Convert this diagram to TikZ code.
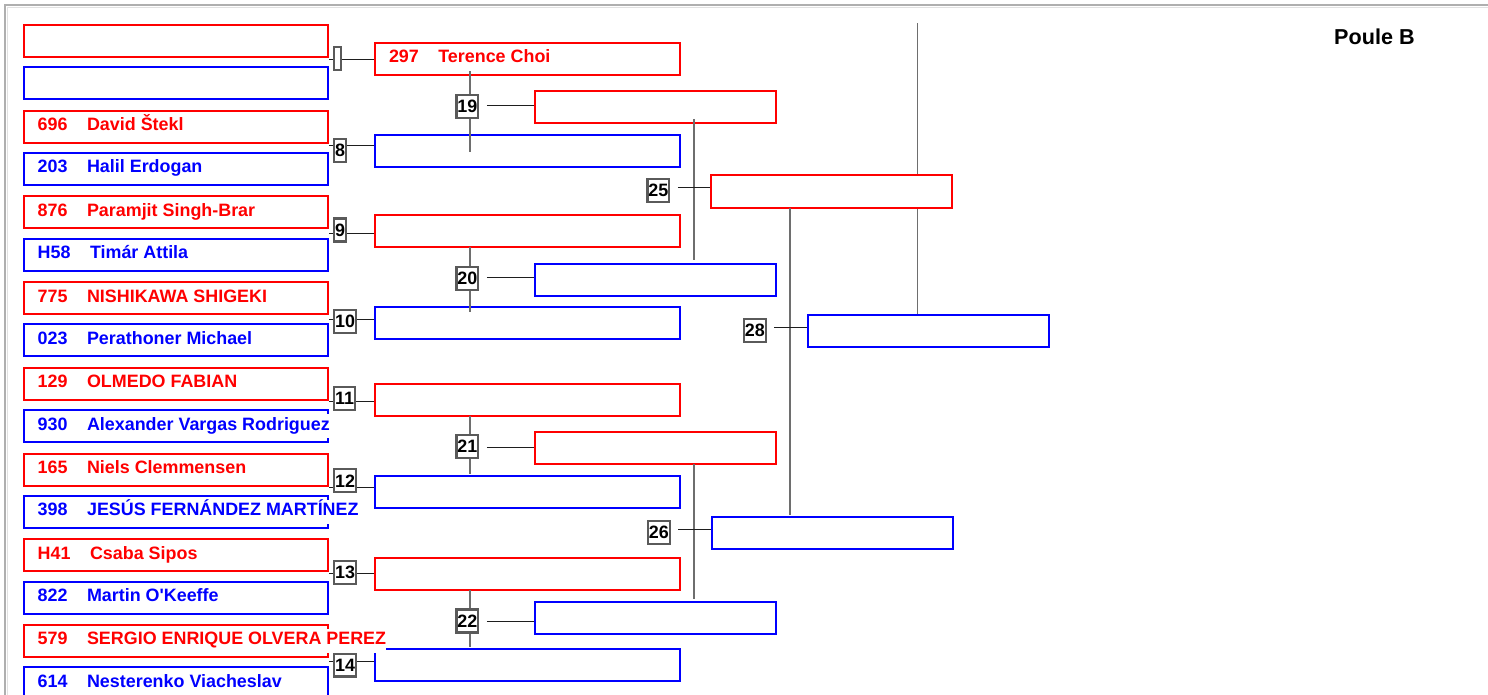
\documentclass[tikz,border=0pt]{standalone}
\usepackage{fontspec}
\setmainfont{Liberation Sans}
\definecolor{framegray}{RGB}{175,175,175}
\definecolor{framelight}{RGB}{225,225,225}
\definecolor{linegray}{RGB}{110,110,110}
\definecolor{nboxgray}{RGB}{90,90,90}
\definecolor{hlinec}{RGB}{30,30,30}
\newcommand\namefont{\bfseries\fontsize{17.9}{20}\selectfont}
\newcommand\pouletitlefont{\bfseries\fontsize{21.6}{24}\selectfont}
\newcommand\gapnm{\hspace{19.5pt}}
\begin{document}
\begin{tikzpicture}[x=1pt,y=-1pt,
  box/.style={draw, line width=2pt, minimum height=32pt, inner sep=0pt, anchor=north west},
  rbox/.style={box, draw=red},
  bbox/.style={box, draw=blue},
  wA/.style={minimum width=304pt},
  wB/.style={minimum width=304.7pt},
  wC/.style={minimum width=241pt},
  nbox/.style={draw=nboxgray, line width=2.2pt, fill=white, inner xsep=1pt, inner ysep=0pt,
    minimum height=23pt, anchor=west, font=\namefont, text=black},
  txt/.style={anchor=base west, fill=white, inner sep=0pt, text height=16pt, text depth=8pt, font=\namefont},
  rt/.style={txt, text=red},
  bt/.style={txt, text=blue},
  hl/.style={draw=hlinec, line width=1pt},
  vl/.style={draw=linegray, line width=1.4pt}]
\useasboundingbox (0,0) rectangle (1488,695);
% frame
\draw[framegray, line width=2pt] (5,695) -- (5,5) -- (1488,5);
\draw[framelight, line width=1pt] (7.5,695) -- (7.5,7.5) -- (1488,7.5);

% ---- column 1 boxes
\foreach \k in {0,...,7} {
  \pgfmathsetmacro\rtop{24+85.7*\k}
  \pgfmathsetmacro\btop{66.3+85.7*\k}
  \node[rbox, wA] (r\k) at (23,\rtop) {};
  \node[bbox, wA] (b\k) at (23,\btop) {};
}
% ---- column 2 boxes
\node[rbox, wB] (n0) at (374.3,42) {};
\node[bbox, wB] (n1) at (374.3,134) {};
\node[rbox, wB] (n2) at (374.3,214) {};
\node[bbox, wB] (n3) at (374.3,306) {};
\node[rbox, wB] (n4) at (374.3,382.7) {};
\node[bbox, wB] (n5) at (374.3,474.7) {};
\node[rbox, wB] (n6) at (374.3,557) {};
\node[bbox, wB] (n7) at (374.3,648) {};
% ---- column 3 boxes
\node[rbox, wC] (q19) at (534.3,90.3) {};
\node[bbox, wC] (q20) at (534.3,262.7) {};
\node[rbox, wC] (q21) at (534.3,430.7) {};
\node[bbox, wC] (q22) at (534.3,600.7) {};
% ---- column 4 / 5 boxes
\node[rbox, wC, minimum height=33pt] (q25) at (710.3,174.3) {};
\node[bbox, wC] (q26) at (710.5,516.3) {};
\node[bbox, wC] (q28) at (806.7,314.3) {};

% ---- vertical connectors
\coordinate (v19a) at (470,71);    \coordinate (v19b) at (470,152);
\coordinate (v20a) at (470,247);   \coordinate (v20b) at (470,312);
\coordinate (v21a) at (470,416);   \coordinate (v21b) at (470,474);
\coordinate (v22a) at (470,590);   \coordinate (v22b) at (470,647);
\coordinate (v25a) at (694,119);   \coordinate (v25b) at (694,260);
\coordinate (v26a) at (694,464);   \coordinate (v26b) at (694,599.3);
\coordinate (v28a) at (790,208.3); \coordinate (v28b) at (790,515);
\coordinate (vTa) at (917.7,23.3);
\draw[vl] (v19a) -- (v19b);
\draw[vl] (v20a) -- (v20b);
\draw[vl] (v21a) -- (v21b);
\draw[vl] (v22a) -- (v22b);
\draw[vl] (v25a) -- (v25b);
\draw[vl] (v26a) -- (v26b);
\draw[vl] (v28a) -- (v28b);
\draw[vl] (vTa) -- (vTa |- q25.north);
\draw[vl] (vTa |- q25.south) -- (vTa |- q28.north);

% ---- match number boxes, column 1
\node[nbox, minimum width=7pt] (m0) at (333,58.7) {};
\node[nbox] (m1) at (333,150.3) {8};
\node[nbox] (m2) at (333,230) {9};
\node[nbox] (m3) at (333,321.7) {10};
\node[nbox] (m4) at (333,398.3) {11};
\node[nbox] (m5) at (333,480.8) {12};
\node[nbox] (m6) at (333,572.8) {13};
\node[nbox] (m7) at (333,665) {14};
% ---- match number boxes, later rounds
\node[nbox] (m19) at (455.3,106.7) {19};
\node[nbox] (m20) at (455.3,278.3) {20};
\node[nbox] (m21) at (455.3,446.3) {21};
\node[nbox] (m22) at (455.3,621) {22};
\node[nbox] (m25) at (646.3,190.5) {25};
\node[nbox] (m26) at (646.7,532.5) {26};
\node[nbox] (m28) at (742.7,330.8) {28};

% ---- horizontal connectors, column 1 -> 2
\coordinate (L0) at (0,59.3);
\coordinate (L1) at (0,145.3);
\coordinate (L2) at (0,233.3);
\coordinate (L3) at (0,319.3);
\coordinate (L4) at (0,401.7);
\coordinate (L5) at (0,487.7);
\coordinate (L6) at (0,573.3);
\coordinate (L7) at (0,661.7);
\foreach \k in {0,...,7} {
  \draw[hl] (r\k.east |- L\k) -- (m\k.west |- L\k);
  \draw[hl] (m\k.east |- L\k) -- (n\k.west |- L\k);
}
% ---- horizontal connectors, later rounds
\coordinate (L19) at (0,105.3);
\coordinate (L20) at (0,277.7);
\coordinate (L21) at (0,447.7);
\coordinate (L22) at (0,621.7);
\coordinate (L25) at (0,187.7);
\coordinate (L26) at (0,529.7);
\coordinate (L28) at (0,327.3);
\foreach \m in {19,20,21,22,25,26,28} {
  \path (m\m.east) ++(7.5,0) coordinate (s\m);
  \draw[hl] (s\m |- L\m) -- (q\m.west |- L\m);
}

% ---- texts
\node[rt] (t1r) at ([xshift=14.5pt,yshift=-21pt]r1.north west) {696\gapnm David Štekl};
\node[bt] (t1b) at ([xshift=14.5pt,yshift=-21pt]b1.north west) {203\gapnm Halil Erdogan};
\node[rt] (t2r) at ([xshift=14.5pt,yshift=-21pt]r2.north west) {876\gapnm Paramjit Singh-Brar};
\node[bt] (t2b) at ([xshift=14.5pt,yshift=-21pt]b2.north west) {H58\gapnm Timár Attila};
\node[rt] (t3r) at ([xshift=14.5pt,yshift=-21pt]r3.north west) {775\gapnm NISHIKAWA SHIGEKI};
\node[bt] (t3b) at ([xshift=14.5pt,yshift=-21pt]b3.north west) {023\gapnm Perathoner Michael};
\node[rt] (t4r) at ([xshift=14.5pt,yshift=-21pt]r4.north west) {129\gapnm OLMEDO FABIAN};
\node[bt] (t4b) at ([xshift=14.5pt,yshift=-21pt]b4.north west) {930\gapnm Alexander Vargas Rodriguez};
\node[rt] (t5r) at ([xshift=14.5pt,yshift=-21pt]r5.north west) {165\gapnm Niels Clemmensen};
\node[bt] (t5b) at ([xshift=14.5pt,yshift=-21pt]b5.north west) {398\gapnm JESÚS FERNÁNDEZ MARTÍNEZ};
\node[rt] (t6r) at ([xshift=14.5pt,yshift=-21pt]r6.north west) {H41\gapnm Csaba Sipos};
\node[bt] (t6b) at ([xshift=14.5pt,yshift=-21pt]b6.north west) {822\gapnm Martin O\textquotesingle Keeffe};
\node[rt] (t7r) at ([xshift=14.5pt,yshift=-21pt]r7.north west) {579\gapnm SERGIO ENRIQUE OLVERA PEREZ\hspace{16pt}};
\node[bt] (t7b) at ([xshift=14.5pt,yshift=-21pt]b7.north west) {614\gapnm Nesterenko Viacheslav};
\node[rt] (t0n) at ([xshift=14.5pt,yshift=-21pt]n0.north west) {297\gapnm Terence Choi};

\node[anchor=base west, font=\pouletitlefont, inner sep=0pt] (poule) at (1334,44.5) {Poule B};
\end{tikzpicture}
\end{document}
